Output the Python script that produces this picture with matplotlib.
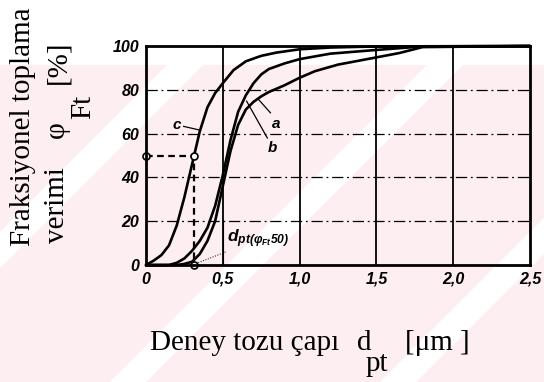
import matplotlib
matplotlib.use("Agg")
import matplotlib.pyplot as plt
from matplotlib.patches import Polygon, Rectangle

# ---- data -------------------------------------------------------------
x_c = [0, 0.05, 0.10, 0.15, 0.20, 0.25, 0.30, 0.35, 0.40, 0.45, 0.50,
       0.57, 0.65, 0.75, 0.85, 1.00, 1.20, 1.50, 2.50]
y_c = [0, 2, 4.5, 9, 18, 31, 46, 61, 72, 78.5, 83,
       89, 93, 95.5, 97, 98.5, 99.3, 99.8, 100]

x_b = [0, 0.15, 0.20, 0.25, 0.30, 0.35, 0.40, 0.45, 0.50, 0.55, 0.60,
       0.65, 0.70, 0.75, 0.80, 0.90, 1.00, 1.20, 1.50, 1.80, 2.50]
y_b = [0, 0, 1, 3, 6.5, 11, 17, 27, 41, 57, 70,
       77.5, 83, 87, 89.5, 92, 94, 96.5, 98.2, 99.8, 100]

x_a = [0, 0.20, 0.25, 0.30, 0.35, 0.40, 0.45, 0.50, 0.55, 0.60, 0.65,
       0.70, 0.75, 0.80, 0.90, 1.00, 1.10, 1.25, 1.50, 1.65, 1.80, 2.50]
y_a = [0, 0, 0.5, 1.5, 5, 11, 20, 36, 52, 64, 71,
       74.5, 77, 79, 82, 85.5, 88.5, 91.5, 94.8, 96.8, 99.5, 100]

d50_c = 0.31          # particle size at 50 % efficiency for curve c
eff50 = 50

x_ticks = [0, 0.5, 1.0, 1.5, 2.0, 2.5]
x_ticklabels = ["0", "0,5", "1,0", "1,5", "2,0", "2,5"]
y_ticks = [0, 20, 40, 60, 80, 100]
y_ticklabels = ["0", "20", "40", "60", "80", "100"]

# ---- figure -----------------------------------------------------------
W, H = 544, 382
fig = plt.figure(figsize=(W / 100, H / 100), dpi=100)
fig.patch.set_facecolor("white")

plt.rcParams["mathtext.fontset"] = "custom"
for key in ("mathtext.it", "mathtext.rm", "mathtext.bf", "mathtext.sf"):
    plt.rcParams[key] = "Liberation Sans:italic:bold"


def fx(px):
    return px / W


def fy(py):
    return 1 - py / H


# light pink paper tint with diagonal white bands
pink = "#fdeef1"
top_px = 65
fig.patches.append(Rectangle((0, 0), 1, fy(top_px), transform=fig.transFigure,
                             facecolor=pink, edgecolor="none", zorder=-10))
for k in (250, 510, 780, 1040):
    k1, k2 = k - 18, k + 18
    pts = [(k1 - top_px, top_px), (k2 - top_px, top_px), (k2 - H, H), (k1 - H, H)]
    fig.patches.append(Polygon([(fx(a), fy(b)) for a, b in pts], closed=True,
                               transform=fig.transFigure, facecolor="white",
                               edgecolor="none", zorder=-9))

ax = fig.add_axes([fx(146), fy(265), fx(530) - fx(146), fy(46) - fy(265)])
ax.patch.set_alpha(0)
ax.set_xlim(0, 2.5)
ax.set_ylim(0, 100)

# grid: solid verticals, dash-dot horizontals
for xv in x_ticks[1:-1]:
    ax.axvline(xv, color="black", lw=1.3, zorder=1)
for yv in y_ticks[1:-1]:
    ax.axhline(yv, color="black", lw=0.9, ls=(0, (9, 3, 1.5, 3)), zorder=1)

# efficiency curves
for xs, ys in ((x_c, y_c), (x_b, y_b), (x_a, y_a)):
    ax.plot(xs, ys, color="black", lw=1.9, solid_capstyle="round",
            solid_joinstyle="round", zorder=3, clip_on=False)

# construction of the cut size d_pt(phi_Ft 50)
ax.plot([0, d50_c, d50_c], [eff50, eff50, 0], color="black", lw=1.6,
        ls=(0, (3, 2)), zorder=4, clip_on=False)
ax.plot([0, d50_c, d50_c], [eff50, eff50, 0], ls="none", marker="o", ms=5,
        mfc="white", mec="black", mew=1.2, zorder=5, clip_on=False)
ax.plot([0.5, 0.5], [0, 20.5], color="black", lw=0.8, zorder=2)
ax.plot([d50_c + 0.03, 0.52], [1, 6], color="black", lw=0.7, ls=":", zorder=2)
ax.text(0.53, 12, r"$d_{pt(\varphi_{Ft}50)}$", fontsize=12.5, ha="left",
        va="center", zorder=6)

# curve labels with leader lines
lab_font = dict(family="Liberation Sans", weight="bold", style="italic",
                fontsize=11, color="black")
ax.text(0.2, 64, "c", ha="center", va="center", **lab_font)
ax.plot([0.245, 0.35], [63.3, 61.6], color="black", lw=0.9)
ax.text(0.845, 64.5, "a", ha="center", va="center", **lab_font)
ax.plot([0.81, 0.73], [69.5, 75.8], color="black", lw=0.9)
ax.text(0.82, 53.5, "b", ha="center", va="center", **lab_font)
ax.plot([0.79, 0.655], [58, 74.8], color="black", lw=0.9)

# frame and ticks
for sp in ax.spines.values():
    sp.set_linewidth(2.0)
    sp.set_zorder(6)
ax.set_xticks(x_ticks)
ax.set_xticklabels(x_ticklabels)
ax.set_yticks(y_ticks)
ax.set_yticklabels(y_ticklabels)
ax.tick_params(length=0, pad=5)
for lab in ax.get_xticklabels() + ax.get_yticklabels():
    lab.set_fontfamily("Liberation Sans")
    lab.set_fontweight("bold")
    lab.set_fontstyle("italic")
    lab.set_fontsize(11.5)

# axis titles in a serif face
serif = dict(family="Liberation Serif", color="black")
fig.text(fx(23), fy(127), "Fraksiyonel toplama", rotation=90, ha="center",
         va="center", fontsize=21, **serif)
fig.text(fx(57), fy(205), "verimi", rotation=90, ha="center", va="center",
         fontsize=21, **serif)
fig.text(fx(57), fy(130), "φ", rotation=90, ha="center", va="center",
         fontsize=21, **serif)
fig.text(fx(83), fy(107), "Ft", rotation=90, ha="center", va="center",
         fontsize=21, **serif)
fig.text(fx(58), fy(62), "[%]", rotation=90, ha="center", va="center",
         fontsize=21, **serif)

fig.text(fx(150), fy(350), "Deney tozu çapı", ha="left", va="baseline",
         fontsize=21, **serif)
fig.text(fx(357), fy(350), "d", ha="left", va="baseline", fontsize=21, **serif)
fig.text(fx(366), fy(371), "pt", ha="left", va="baseline", fontsize=21, **serif)
fig.text(fx(405), fy(350), "[μm ]", ha="left", va="baseline", fontsize=21,
         **serif)

fig.savefig("out.png", dpi=100, facecolor=fig.get_facecolor())
